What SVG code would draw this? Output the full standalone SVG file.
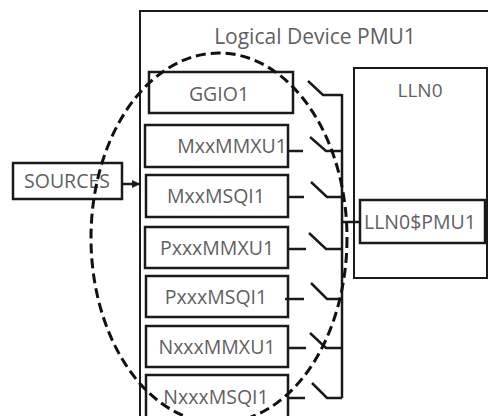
<svg xmlns="http://www.w3.org/2000/svg" width="488" height="416" viewBox="0 0 488 416">
<defs>
<style>
.box{fill:#fff;stroke:#1a1a1a;stroke-width:2.5}
.frame{fill:#fff;stroke:#1a1a1a;stroke-width:2}
.t{font-family:"Open Sans","DejaVu Sans",sans-serif;font-size:19.5px;fill:#5f5f5f;text-anchor:middle}
.w{fill:none;stroke:#1a1a1a;stroke-width:2.5}
.dash{fill:none;stroke:#111;stroke-width:3;stroke-dasharray:10 5}
</style>
<marker id="ah" markerWidth="8" markerHeight="8" refX="7" refY="4" orient="auto" markerUnits="userSpaceOnUse">
<path d="M0,0 L8,4 L0,8 z" fill="#1a1a1a"/>
</marker>
</defs>
<g id="frame">
<rect class="frame" x="140" y="11" width="360" height="420"/>
<text class="t" x="315" y="44" style="font-size:21px">Logical Device PMU1</text>
</g>
<g id="LLN0">
<rect class="frame" x="354" y="68" width="133" height="210"/>
<text class="t" x="420" y="97" style="font-size:19px">LLN0</text>
</g>
<g id="LLN0PMU1">
<rect class="box" x="360" y="200" width="125" height="43"/>
<text class="t" x="420" y="229">LLN0$PMU1</text>
</g>
<g id="SOURCES">
<rect class="box" x="13" y="163" width="109" height="36"/>
<text class="t" x="67" y="188">SOURCES</text>
</g>
<g id="GGIO1">
<rect class="box" x="149" y="72" width="144" height="41"/>
<text class="t" x="219" y="101">GGIO1</text>
</g>
<g id="MxxMMXU1">
<rect class="box" x="145" y="125" width="143" height="42"/>
<text class="t" x="232" y="153">MxxMMXU1</text>
</g>
<g id="MxxMSQI1">
<rect class="box" x="146" y="175" width="142" height="42"/>
<text class="t" x="216" y="203">MxxMSQI1</text>
</g>
<g id="PxxxMMXU1">
<rect class="box" x="145" y="227" width="143" height="41"/>
<text class="t" x="217" y="255">PxxxMMXU1</text>
</g>
<g id="PxxxMSQI1">
<rect class="box" x="146" y="276" width="142" height="41"/>
<text class="t" x="216" y="304">PxxxMSQI1</text>
</g>
<g id="NxxxMMXU1">
<rect class="box" x="146" y="326" width="142" height="41"/>
<text class="t" x="217" y="354">NxxxMMXU1</text>
</g>
<g id="NxxxMSQI1">
<rect class="box" x="146" y="375" width="142" height="45"/>
<text class="t" x="216" y="404">NxxxMSQI1</text>
</g>
<g id="connectors">
<line class="w" x1="122" y1="184" x2="139" y2="184" marker-end="url(#ah)"/>
<polyline class="w" points="342,94 342,398"/>
<line class="w" x1="342" y1="222" x2="360" y2="222"/>
<polyline class="w" points="308,81 323,95 342,95"/>
<line class="w" x1="288" y1="151" x2="303" y2="151"/>
<polyline class="w" points="310,137 326,151 342,151"/>
<line class="w" x1="288" y1="197" x2="304" y2="197"/>
<polyline class="w" points="311,182 327,197 342,197"/>
<line class="w" x1="288" y1="249" x2="306" y2="249"/>
<polyline class="w" points="309,233 326,249 342,249"/>
<line class="w" x1="285" y1="299" x2="304" y2="299"/>
<polyline class="w" points="311,283 327,299 342,299"/>
<line class="w" x1="288" y1="348" x2="306" y2="348"/>
<polyline class="w" points="310,333 326,348 342,348"/>
<line class="w" x1="288" y1="398" x2="305" y2="398"/>
<polyline class="w" points="312,383 327,398 342,398"/>
</g>
<ellipse class="dash" cx="219" cy="238" rx="128" ry="185"/>
</svg>
